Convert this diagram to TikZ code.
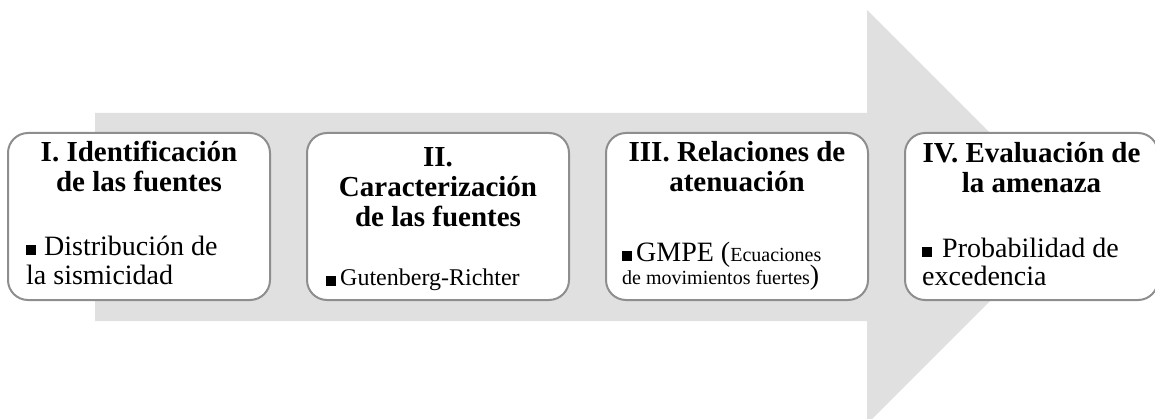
\documentclass[tikz,border=0pt]{standalone}
\usepackage{fontspec}
\setmainfont{Liberation Serif}
\usetikzlibrary{positioning}
\definecolor{flechagris}{HTML}{E0E0E0}
\definecolor{bordegris}{HTML}{8E8E8E}
\newcommand{\cuadro}[1][10pt]{\rule{10pt}{10pt}\hspace{#1}}

\begin{document}
\begin{tikzpicture}[x=1pt, y=-1pt, node distance=35pt,
  caja/.style={draw=bordegris, line width=2pt, rounded corners=20pt, fill=white,
    minimum width=262pt, minimum height=167pt, inner sep=0pt},
  titulo/.style={font=\fontsize{29}{30}\selectfont\bfseries, align=center, anchor=base, inner sep=0pt},
  item/.style={font=\fontsize{28}{28.5}\selectfont, align=left, anchor=base west, inner sep=0pt}]
  \useasboundingbox (0,0) rectangle (1155,419);
  % flecha de fondo
  \fill[flechagris] (95,113) -- (867,113) -- (867,10) -- (1074,217) -- (867,424)
    -- (867,321) -- (95,321) -- cycle;

  \node[caja] (ident) at (139,216.5) {};
  \node[caja, right=of ident] (caract) {};
  \node[caja, right=of caract] (aten) {};
  \node[caja, right=of aten, minimum width=253pt] (eval) {};

  % el ancla base queda en la ultima linea
  \node[titulo] (identT) at ([yshift=-60pt]ident.north) {I. Identificación\\de las fuentes};
  \node[titulo] (caractT) at ([yshift=-95pt]caract.north) {II.\\Caracterización\\de las fuentes};
  \node[titulo] (atenT) at ([yshift=-60pt]aten.north) {III. Relaciones de\\atenuación};
  \node[titulo] (evalT) at ([yshift=-61pt]eval.north) {IV. Evaluación de\\la amenaza};

  \node[item] (identI) at ([xshift=19pt, yshift=-152pt]ident.north west)
    {\cuadro[8pt]Distribución de\\la sismicidad};
  \node[item, font=\fontsize{24}{28}\selectfont] (caractI) at ([xshift=20pt, yshift=-154pt]caract.north west)
    {\cuadro[4pt]Gutenberg-Richter};
  \node[item, font=\fontsize{28}{28}\selectfont] (atenI) at ([xshift=17pt, yshift=-152pt]aten.north west)
    {\cuadro[4pt]GMPE ({\fontsize{20}{23}\selectfont Ecuaciones}\\[-5pt]{\fontsize{20}{23}\selectfont de movimientos fuertes})};
  \node[item] (evalI) at ([xshift=18pt, yshift=-154pt]eval.north west)
    {\cuadro[10pt]Probabilidad de\\excedencia};
\end{tikzpicture}
\end{document}
